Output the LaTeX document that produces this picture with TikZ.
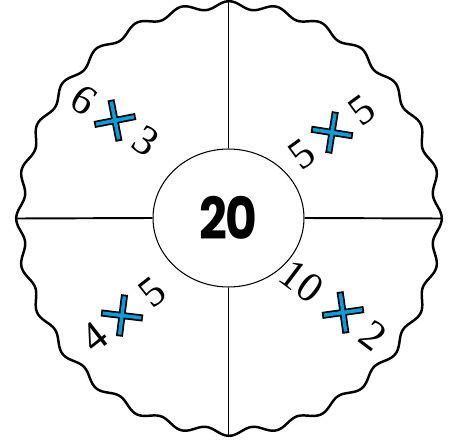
\documentclass[tikz,border=0pt]{standalone}
\usepackage{fontspec}
\usepackage{tikz}
\usetikzlibrary{shapes.geometric}
\setmainfont{Liberation Serif}
\newfontfamily\hubfont{Poppins}
\definecolor{xblue}{RGB}{0,160,222}
\tikzset{
  mul/.pic={
    \draw[line width=4pt] (-14.9,-14.9) -- (14.9,14.9) (-14.9,14.9) -- (14.9,-14.9);
    \draw[line width=2pt,xblue] (-13.6,-13.6) -- (13.6,13.6) (-13.6,13.6) -- (13.6,-13.6);
  }
}

\begin{document}
\begin{tikzpicture}[x=0.02cm,y=0.02cm,
    rim/.style={line width=1.4pt,line join=round},
    spoke/.style={line width=1.1pt},
    hub/.style={ellipse,draw,line width=0.6pt,minimum width=3.02cm,minimum height=2.76cm,inner sep=0pt,
      font=\hubfont\bfseries\fontsize{33}{36}\selectfont},
    num/.style={inner sep=0pt,font=\fontsize{24}{26}\selectfont}]
    \useasboundingbox (-229,-224.5) rectangle (228,218.5);
    \draw[rim] plot[domain=0:360,samples=721,smooth] ({(209+3.8*cos(28*\x))*cos(\x)},{(213.5+3.8*cos(28*\x))*sin(\x)}) -- cycle; %外周
    \node[hub] (hub) at (-0.5,0.5) {\scalebox{0.84}[1]{2\kern-1pt0}}; %中央
    \coordinate (rimN) at (-0.5,217.3);
    \coordinate (rimS) at (-0.5,-217.3);
    \coordinate (rimW) at (-212.8,0);
    \coordinate (rimE) at (212.8,0);
    \draw[spoke] (hub.north) -- (rimN); %仕切り
    \draw[spoke] (hub.south) -- (rimS);
    \draw[spoke] (hub.west) -- (rimW);
    \draw[spoke] (hub.east) -- (rimE);
    \begin{scope}[shift={(-114,98)},rotate=-34,transform shape] %左上
        \node[num] (a6) at (-37,0) {6};
        \pic {mul};
        \node[num] (a3) at (37,0) {3};
    \end{scope}
    \begin{scope}[shift={(103,86)},rotate=36,transform shape] %右上
        \node[num] (b5) at (-37,0) {5};
        \pic {mul};
        \node[num] (b5r) at (37,0) {5};
    \end{scope}
    \begin{scope}[shift={(-107,-97)},rotate=38,transform shape] %左下
        \node[num] (c4) at (-35,0) {4};
        \pic {mul};
        \node[num] (c5) at (38,0) {5};
    \end{scope}
    \begin{scope}[shift={(114,-94)},rotate=-37,transform shape] %右下
        \node[num] (d10) at (-52,0) {10};
        \pic {mul};
        \node[num] (d2) at (38,0) {2};
    \end{scope}
\end{tikzpicture}
\end{document}
